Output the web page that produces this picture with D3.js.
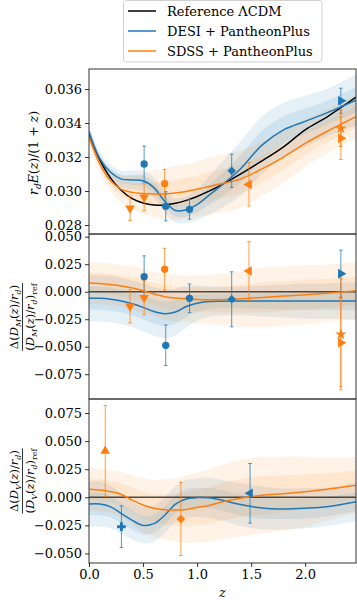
<!DOCTYPE html>
<html>
<head>
<meta charset="utf-8">
<script src="https://cdn.jsdelivr.net/npm/d3@7"></script>
<style>
body { margin: 0; background: #fff; }
svg { font-family: "DejaVu Serif", serif; }
</style>
</head>
<body>
<svg id="chart" width="357" height="600"></svg>
<script>
// redshift grid the curves are sampled on
const zGrid = [0, 0.1, 0.2, 0.3, 0.4, 0.5, 0.6, 0.7, 0.8, 0.9, 1.0, 1.1, 1.2, 1.4, 1.6, 1.8, 2.0, 2.2, 2.47];

// top panel: r_d E(z)/(1+z)
const refTop = [0.0333, 0.03183, 0.03076, 0.03003, 0.02955, 0.02929, 0.02917, 0.02918, 0.02928, 0.02945, 0.02968, 0.02996, 0.03027, 0.03099, 0.03177, 0.0326, 0.0336, 0.03435, 0.03552];
const desiTop = [0.0335, 0.0319, 0.0311, 0.0307, 0.03065, 0.0306, 0.0302, 0.0294, 0.02885, 0.0289, 0.0292, 0.0297, 0.0302, 0.0313, 0.0327, 0.0336, 0.0341, 0.0346, 0.03535];
const desiTopSig = [0.0004, 0.0004, 0.00045, 0.0005, 0.00055, 0.0006, 0.0006, 0.00065, 0.0007, 0.0008, 0.0009, 0.0011, 0.0013, 0.0016, 0.0017, 0.0016, 0.0015, 0.0014, 0.0015];
const sdssTop = [0.0332, 0.0316, 0.0306, 0.0301, 0.02992, 0.02985, 0.02982, 0.02983, 0.02988, 0.02997, 0.0301, 0.03025, 0.0304, 0.0307, 0.0313, 0.032, 0.0328, 0.0335, 0.03437];
const sdssTopSig = [0.0004, 0.0005, 0.0006, 0.0008, 0.001, 0.0012, 0.0014, 0.0015, 0.0016, 0.0016, 0.0016, 0.0017, 0.0017, 0.0017, 0.0016, 0.0015, 0.0014, 0.0013, 0.0013];

// middle panel: relative D_M residual
const desiMid = [-0.006, -0.006, -0.0068, -0.0085, -0.011, -0.0142, -0.018, -0.02, -0.0185, -0.0135, -0.0105, -0.009, -0.0086, -0.0085, -0.0085, -0.0085, -0.0085, -0.0085, -0.0085];
const desiMidSig = [0.021, 0.021, 0.021, 0.021, 0.021, 0.022, 0.022, 0.022, 0.021, 0.019, 0.016, 0.014, 0.013, 0.013, 0.014, 0.015, 0.016, 0.016, 0.017];
const sdssMid = [0.008, 0.0075, 0.0065, 0.0052, 0.0033, 0.0008, -0.002, -0.0045, -0.0058, -0.0064, -0.007, -0.0072, -0.0072, -0.0065, -0.0052, -0.004, -0.0028, -0.0014, 0.0009];
const sdssMidSig = [0.019, 0.019, 0.019, 0.019, 0.02, 0.02, 0.02, 0.021, 0.021, 0.021, 0.022, 0.022, 0.023, 0.025, 0.027, 0.027, 0.027, 0.026, 0.026];

// bottom panel: relative D_V residual
const desiBot = [-0.006, -0.006, -0.0085, -0.0145, -0.0205, -0.025, -0.0235, -0.016, -0.006, -0.0015, -0.0003, -0.0005, -0.002, -0.0065, -0.0095, -0.0104, -0.0098, -0.0085, -0.004];
const desiBotSig = [0.02, 0.02, 0.019, 0.018, 0.017, 0.016, 0.016, 0.016, 0.016, 0.017, 0.017, 0.018, 0.018, 0.019, 0.019, 0.018, 0.018, 0.017, 0.017];
const sdssBot = [0.0072, 0.0065, 0.005, 0.0025, -0.0025, -0.0068, -0.0098, -0.011, -0.0113, -0.0108, -0.009, -0.0075, -0.0048, -0.0008, 0.0018, 0.0032, 0.005, 0.0072, 0.0108];
const sdssBotSig = [0.019, 0.019, 0.019, 0.02, 0.022, 0.024, 0.025, 0.027, 0.028, 0.03, 0.031, 0.032, 0.033, 0.034, 0.034, 0.033, 0.031, 0.028, 0.025];

// measurements: [z, value, error, marker]
const desiTopPts = [[0.51, 0.03159, 0.00105, "o"], [0.71, 0.0291, 0.00086, "o"], [0.93, 0.02892, 0.00058, "o"], [1.32, 0.03119, 0.00098, "D"], [2.33, 0.03531, 0.00074, ">"]];
const sdssTopPts = [[0.38, 0.02898, 0.00072, "v"], [0.51, 0.02963, 0.0008, "v"], [0.70, 0.03043, 0.00083, "o"], [1.48, 0.03039, 0.00128, "<"], [2.33, 0.03369, 0.00107, "*"], [2.33, 0.0331, 0.00125, ">"]];
const desiMidPts = [[0.51, 0.0136, 0.019, "o"], [0.71, -0.0487, 0.0184, "o"], [0.93, -0.006, 0.013, "o"], [1.32, -0.0069, 0.025, "D"], [2.33, 0.0164, 0.0214, ">"]];
const sdssMidPts = [[0.38, -0.0133, 0.015, "v"], [0.51, -0.0055, 0.0155, "v"], [0.70, 0.0204, 0.019, "o"], [1.48, 0.0188, 0.0266, "<"], [2.33, -0.0387, 0.0505, "*"], [2.33, -0.0464, 0.04, ">"]];
const desiBotPts = [[0.30, -0.0262, 0.0185, "P"], [1.49, 0.0036, 0.0265, "<"]];
const sdssBotPts = [[0.15, 0.0412, 0.0405, "^"], [0.85, -0.0193, 0.0325, "D"]];

const topTicks = [0.028, 0.030, 0.032, 0.034, 0.036];
const midTicks = [-0.075, -0.05, -0.025, 0, 0.025, 0.05];
const botTicks = [-0.05, -0.025, 0, 0.025, 0.05, 0.075];
const zTicks = [0, 0.5, 1.0, 1.5, 2.0];

const legendNames = ["Reference \u039BCDM", "DESI + PantheonPlus", "SDSS + PantheonPlus"];
const BLUE = "#1f77b4", ORANGE = "#ff7f0e";

const svg = d3.select("#chart");
const left = 89, right = 356;

const x = d3.scaleLinear().domain([0, 2.47]).range([left, right]);

const panels = [
    {top: 69, bottom: 234, domain: [0.02747, 0.03718], ticks: topTicks, fmt: d3.format(".3f"),
        desi: desiTop, desiSig: desiTopSig, sdss: sdssTop, sdssSig: sdssTopSig, ref: refTop,
        desiPts: desiTopPts, sdssPts: sdssTopPts},
    {top: 234, bottom: 399, domain: [-0.0975, 0.05245], ticks: midTicks, fmt: d3.format(".3f"),
        desi: desiMid, desiSig: desiMidSig, sdss: sdssMid, sdssSig: sdssMidSig, ref: null,
        desiPts: desiMidPts, sdssPts: sdssMidPts},
    {top: 399, bottom: 563, domain: [-0.0585, 0.0875], ticks: botTicks, fmt: d3.format(".3f"),
        desi: desiBot, desiSig: desiBotSig, sdss: sdssBot, sdssSig: sdssBotSig, ref: null,
        desiPts: desiBotPts, sdssPts: sdssBotPts}
];

function markerPath(m) {
    let type = d3.symbolCircle, size = 42, rot = 0;
    if (m === "v") { type = d3.symbolTriangle; size = 40; rot = 180; }
    if (m === "^") { type = d3.symbolTriangle; size = 40; rot = 0; }
    if (m === "<") { type = d3.symbolTriangle; size = 40; rot = -90; }
    if (m === ">") { type = d3.symbolTriangle; size = 40; rot = 90; }
    if (m === "D") { type = d3.symbolSquare; size = 36; rot = 45; }
    if (m === "*") { type = d3.symbolStar; size = 40; rot = 0; }
    if (m === "P") { type = d3.symbolCross; size = 42; rot = 0; }
    return {d: d3.symbol().type(type).size(size)(), rot: rot};
}

panels.forEach(function (p, i) {
    const y = d3.scaleLinear().domain(p.domain).range([p.bottom, p.top]);
    const g = svg.append("g");

    g.append("clipPath").attr("id", "clip" + i)
        .append("rect")
        .attr("x", left).attr("y", p.top)
        .attr("width", right - left).attr("height", p.bottom - p.top);

    const plot = g.append("g").attr("clip-path", "url(#clip" + i + ")");

    const curve = d3.curveCatmullRom.alpha(0.5);
    const line = d3.line().x(function (d) { return x(d[0]); }).y(function (d) { return y(d[1]); }).curve(curve);
    const band = function (vals, sig, k) {
        return d3.area().curve(curve)
            .x(function (d, j) { return x(zGrid[j]); })
            .y0(function (d, j) { return y(vals[j] - k * sig[j]); })
            .y1(function (d, j) { return y(vals[j] + k * sig[j]); })(vals);
    };

    // confidence bands
    [[p.desi, p.desiSig, BLUE, 0.11], [p.sdss, p.sdssSig, ORANGE, 0.1]].forEach(function (s) {
        plot.append("path").attr("d", band(s[0], s[1], 1)).attr("fill", s[2]).attr("fill-opacity", s[3]);
        plot.append("path").attr("d", band(s[0], s[1], 0.5)).attr("fill", s[2]).attr("fill-opacity", s[3]);
    });

    // reference
    if (p.ref) {
        plot.append("path")
            .attr("d", line(zGrid.map(function (z, j) { return [z, p.ref[j]]; })))
            .attr("fill", "none").attr("stroke", "#000").attr("stroke-width", 1.5);
    } else {
        plot.append("line")
            .attr("x1", left).attr("x2", right)
            .attr("y1", y(0)).attr("y2", y(0))
            .attr("stroke", "#222").attr("stroke-width", 1.5).attr("stroke-opacity", 0.8);
    }

    [[p.desi, BLUE], [p.sdss, ORANGE]].forEach(function (s) {
        plot.append("path")
            .attr("d", line(zGrid.map(function (z, j) { return [z, s[0][j]]; })))
            .attr("fill", "none").attr("stroke", s[1]).attr("stroke-width", 1.5);
    });

    // data points
    [[p.desiPts, BLUE], [p.sdssPts, ORANGE]].forEach(function (s) {
        const pts = plot.selectAll(null).data(s[0]).enter().append("g");
        pts.append("line")
            .attr("x1", function (d) { return x(d[0]); }).attr("x2", function (d) { return x(d[0]); })
            .attr("y1", function (d) { return y(d[1] - d[2]); }).attr("y2", function (d) { return y(d[1] + d[2]); })
            .attr("stroke", s[1]).attr("stroke-opacity", 0.75).attr("stroke-width", 1);
        [-1, 1].forEach(function (sgn) {
            pts.append("line")
                .attr("x1", function (d) { return x(d[0]) - 1.8; }).attr("x2", function (d) { return x(d[0]) + 1.8; })
                .attr("y1", function (d) { return y(d[1] + sgn * d[2]); }).attr("y2", function (d) { return y(d[1] + sgn * d[2]); })
                .attr("stroke", s[1]).attr("stroke-opacity", 0.75).attr("stroke-width", 1);
        });
        pts.append("path")
            .attr("d", function (d) { return markerPath(d[3]).d; })
            .attr("transform", function (d) {
                return "translate(" + x(d[0]) + "," + y(d[1]) + ") rotate(" + markerPath(d[3]).rot + ")";
            })
            .attr("fill", s[1]);
    });

    // frame
    g.append("rect")
        .attr("x", left).attr("y", p.top)
        .attr("width", right - left).attr("height", p.bottom - p.top)
        .attr("fill", "none").attr("stroke", "#444").attr("stroke-width", 1.1);

    // y axis
    const yAxis = d3.axisLeft(y).tickValues(p.ticks).tickFormat(p.fmt).tickSize(4).tickPadding(3);
    const ax = g.append("g").attr("transform", "translate(" + left + ",0)").call(yAxis);
    ax.select(".domain").remove();
    ax.selectAll("text").attr("font-size", 13).attr("font-family", "DejaVu Serif").attr("fill", "#000");
    ax.selectAll("line").attr("stroke", "#000").attr("stroke-width", 0.8);

    if (i === 2) {
        const xAxis = d3.axisBottom(x).tickValues(zTicks).tickFormat(d3.format(".1f")).tickSize(4).tickPadding(3);
        const xa = g.append("g").attr("transform", "translate(0," + p.bottom + ")").call(xAxis);
        xa.select(".domain").remove();
        xa.selectAll("text").attr("font-size", 13).attr("font-family", "DejaVu Serif").attr("fill", "#000");
        xa.selectAll("line").attr("stroke", "#000").attr("stroke-width", 0.8);
    }
});

// x label
svg.append("text").attr("x", (left + right) / 2).attr("y", 597)
    .attr("text-anchor", "middle").attr("font-size", 13).attr("font-style", "italic").text("z");

// y label, top panel
const lt = svg.append("text")
    .attr("transform", "translate(38,153) rotate(-90)")
    .attr("text-anchor", "middle").attr("font-size", 12.5);
lt.append("tspan").attr("font-style", "italic").text("r");
lt.append("tspan").attr("font-style", "italic").attr("font-size", 9).attr("dy", 3).text("d");
lt.append("tspan").attr("font-style", "italic").attr("dy", -3).text("E");
lt.append("tspan").text("(");
lt.append("tspan").attr("font-style", "italic").text("z");
lt.append("tspan").text(")/(1 + ");
lt.append("tspan").attr("font-style", "italic").text("z");
lt.append("tspan").text(")");

// fraction labels for residual panels
function fracLabel(cy, sub) {
    const g = svg.append("g").attr("transform", "translate(0," + cy + ") rotate(-90)");
    const num = g.append("text").attr("x", 0).attr("y", 18).attr("text-anchor", "middle").attr("font-size", 11.5);
    num.append("tspan").text("\u0394(");
    num.append("tspan").attr("font-style", "italic").text("D");
    num.append("tspan").attr("font-style", "italic").attr("font-size", 8).attr("dy", 2.5).text(sub);
    num.append("tspan").attr("dy", -2.5).text("(");
    num.append("tspan").attr("font-style", "italic").text("z");
    num.append("tspan").text(")/");
    num.append("tspan").attr("font-style", "italic").text("r");
    num.append("tspan").attr("font-style", "italic").attr("font-size", 8).attr("dy", 2.5).text("d");
    num.append("tspan").attr("dy", -2.5).text(")");

    const den = g.append("text").attr("x", 0).attr("y", 34).attr("text-anchor", "middle").attr("font-size", 11.5);
    den.append("tspan").text("(");
    den.append("tspan").attr("font-style", "italic").text("D");
    den.append("tspan").attr("font-style", "italic").attr("font-size", 8).attr("dy", 2.5).text(sub);
    den.append("tspan").attr("dy", -2.5).text("(");
    den.append("tspan").attr("font-style", "italic").text("z");
    den.append("tspan").text(")/");
    den.append("tspan").attr("font-style", "italic").text("r");
    den.append("tspan").attr("font-style", "italic").attr("font-size", 8).attr("dy", 2.5).text("d");
    den.append("tspan").attr("dy", -2.5).text(")");
    den.append("tspan").attr("font-size", 8).attr("dy", 2.5).text("ref");

    const w = Math.max(num.node().getComputedTextLength(), den.node().getComputedTextLength());
    g.append("line").attr("x1", -w / 2).attr("x2", w / 2).attr("y1", 22.5).attr("y2", 22.5)
        .attr("stroke", "#000").attr("stroke-width", 0.8);
}
fracLabel(317, "M");
fracLabel(481, "V");

// legend
const leg = svg.append("g");
leg.append("rect").attr("x", 123.5).attr("y", 0.5).attr("width", 198.5).attr("height", 61.5).attr("rx", 3)
    .attr("fill", "#fff").attr("fill-opacity", 0.8).attr("stroke", "#d0d0d0").attr("stroke-width", 1);
[["#000", 0], [BLUE, 1], [ORANGE, 2]].forEach(function (s) {
    const ly = 11 + s[1] * 20;
    leg.append("line").attr("x1", 128).attr("x2", 156).attr("y1", ly).attr("y2", ly)
        .attr("stroke", s[0]).attr("stroke-width", 1.5);
    leg.append("text").attr("x", 167).attr("y", ly + 4.5).attr("font-size", 13).text(legendNames[s[1]]);
});
</script>
</body>
</html>
